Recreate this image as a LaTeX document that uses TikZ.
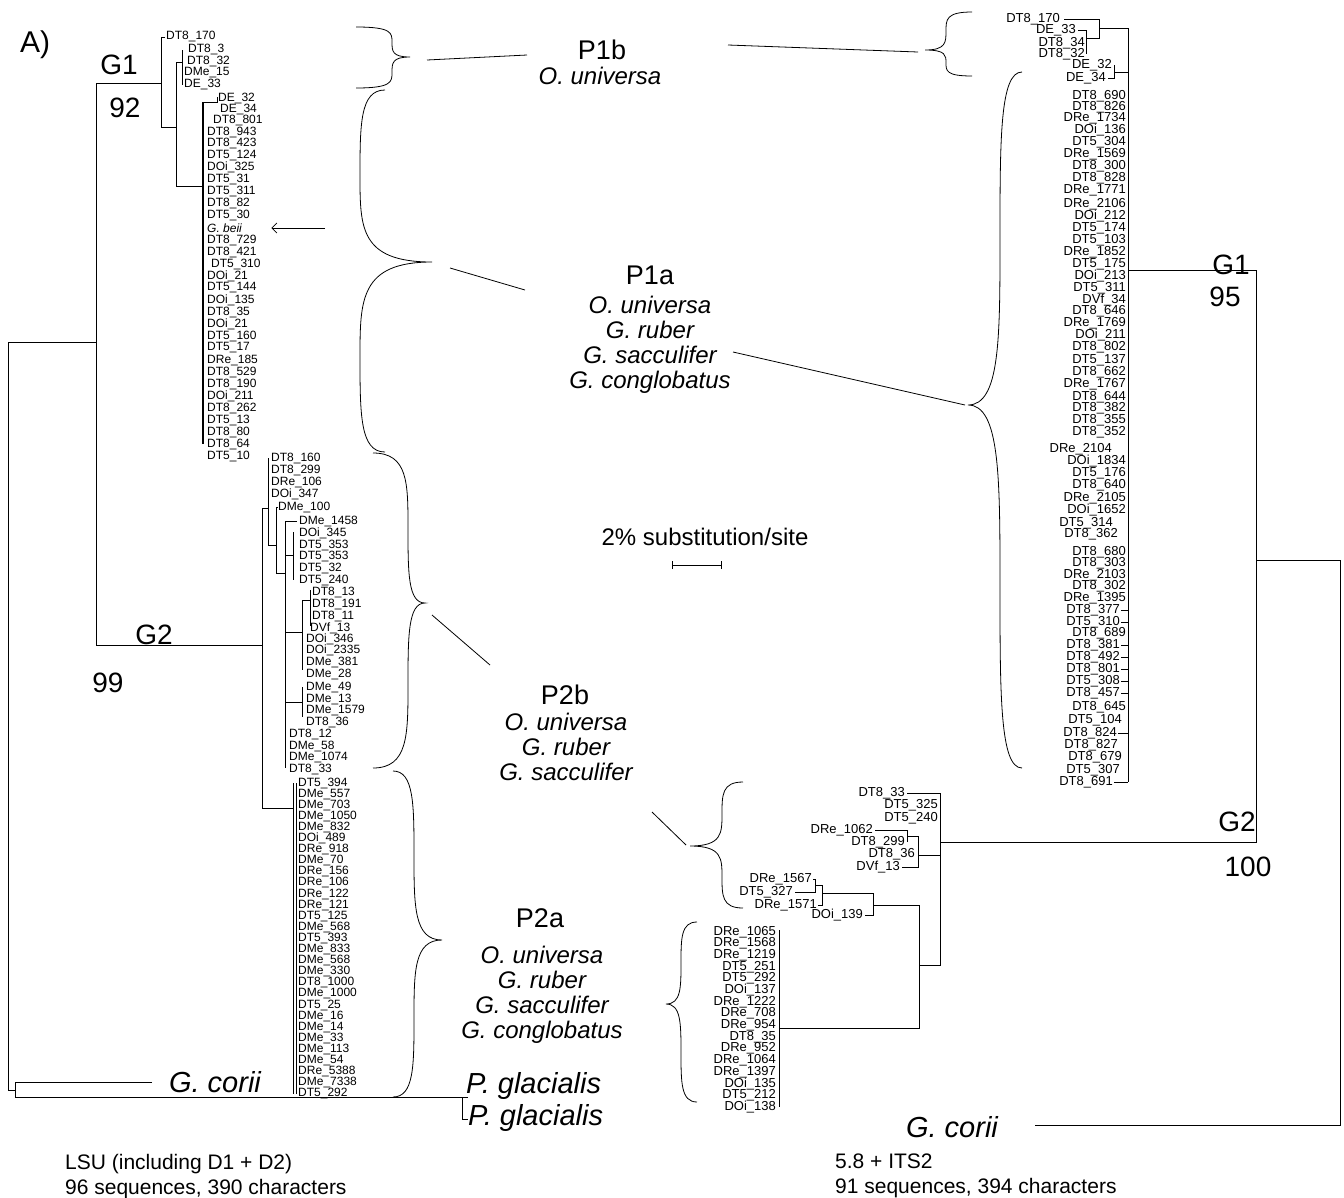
\documentclass[tikz,border=0pt]{standalone}
\usepackage{fontspec}
\setmainfont{Liberation Sans}
\usetikzlibrary{arrows.meta,positioning}
\tikzset{
  leaf/.style={inner sep=0pt,font=\fontsize{12}{12}\selectfont},
  lleaf/.style={leaf,anchor=west},
  rleaf/.style={leaf,anchor=east,font=\fontsize{13}{13}\selectfont},
  clade/.style={inner sep=0pt,font=\fontsize{28}{30}\selectfont},
  group/.style={inner sep=0pt,font=\fontsize{27}{30}\selectfont},
  taxa/.style={inner sep=0pt,align=center,font=\fontsize{24}{25}\selectfont\itshape},
  outg/.style={inner sep=0pt,font=\fontsize{29}{30}\selectfont\itshape},
  note/.style={inner sep=0pt,anchor=north west,align=left,font=\fontsize{21}{25}\selectfont},
  branch/.style={line width=0.8pt},
  bracket/.style={line width=0.8pt},
}
% end x, top y, bottom y, spine x, tip x, tip y
\newcommand\drawbrace[6]{%
  \draw[bracket] (#1,#2)
    .. controls (#4,#2) and (#4,{#2+0.2*(#6-#2)}) .. (#4,{0.5*(#2+#6)})
    .. controls (#4,{#6-0.2*(#6-#2)}) and (#4,#6) .. (#5,#6)
    .. controls (#4,#6) and (#4,{#6+0.2*(#3-#6)}) .. (#4,{0.5*(#6+#3)})
    .. controls (#4,{#3-0.2*(#3-#6)}) and (#4,#3) .. (#1,#3);}
\begin{document}
\begin{tikzpicture}[x=1pt,y=-1pt]
\useasboundingbox (0,0) rectangle (1344,1197);

% ---- LSU tree (left) ----
\foreach \lab/\x/\y [count=\i] in {DT8\_170/166/37, DT8\_3/188/50, DT8\_32/187/62,
  DMe\_15/184/73, DE\_33/184/85, DE\_32/218/98, DE\_34/220/109, DT8\_801/213/120,
  DT8\_943/207/132, DT8\_423/207/143, DT5\_124/207/155, DOi\_325/207/167,
  DT5\_31/207/179, DT5\_311/207/191, DT8\_82/207/203, DT5\_30/207/215,
  \textit{G. beii}/207/228, DT8\_729/207/240, DT8\_421/207/252, DT5\_310/211/264,
  DOi\_21/207/276, DT5\_144/207/288, DOi\_135/207/300, DT8\_35/207/312,
  DOi\_21/207/324, DT5\_160/207/336, DT5\_17/207/348, DRe\_185/207/360,
  DT8\_529/207/372, DT8\_190/207/384, DOi\_211/207/396, DT8\_262/207/408,
  DT5\_13/207/420, DT8\_80/207/432, DT8\_64/207/444, DT5\_10/207/456}
  \node[lleaf] (ga\i) at (\x,\y) {\lab};

\foreach \lab/\x/\y [count=\i] in {DT8\_160/271/458, DT8\_299/271/470, DRe\_106/271/482,
  DOi\_347/271/494, DMe\_100/278/507, DMe\_1458/299/521, DOi\_345/299/533,
  DT5\_353/299/545, DT5\_353/299/556, DT5\_32/299/568, DT5\_240/299/580,
  DT8\_13/312/592, DT8\_191/312/604, DT8\_11/312/616, DVf\_13/310/628,
  DOi\_346/306/639, DOi\_2335/306/650, DMe\_381/306/662, DMe\_28/306/674,
  DMe\_49/306/687, DMe\_13/306/699, DMe\_1579/306/710, DT8\_36/306/722,
  DT8\_12/289/734, DMe\_58/289/746, DMe\_1074/289/757, DT8\_33/289/769}
  \node[lleaf] (gb\i) at (\x,\y) {\lab};

\foreach \lab [count=\i] in {DT5\_394, DMe\_557, DMe\_703, DMe\_1050, DMe\_832,
  DOi\_489, DRe\_918, DMe\_70, DRe\_156, DRe\_106, DRe\_122, DRe\_121, DT5\_125,
  DMe\_568, DT5\_393, DMe\_833, DMe\_568, DMe\_330, DT8\_1000, DMe\_1000, DT5\_25,
  DMe\_16, DMe\_14, DMe\_33, DMe\_113, DMe\_54, DRe\_5388, DMe\_7338, DT5\_292}
  \node[lleaf] (gp\i) at (298,{783+(\i-1)*11.1}) {\lab};

\draw[branch] (161,83) -- (96,83) -- (96,645) -- (262,645);
\draw[branch] (96,342) -- (8,342) -- (8,1090) -- (15,1090);
\draw[branch] (152,1082) -- (15,1082) -- (15,1097) -- (462,1097);
\draw[branch] (468,1097) -- (462,1097) -- (462,1119) -- (468,1119);
\draw[branch] (165,37) -- (161,37) -- (161,127) -- (176,127);
\draw[branch] (182,62) -- (176,62) -- (176,186) -- (203,186);
\draw[branch] (182,50) -- (182,85);
\draw[branch,line width=1.3pt] (203,102) -- (203,444);
\draw[branch] (203,102) -- (217,102) -- (217,97);
\draw[branch] (268,508) -- (262,508) -- (262,808) -- (293,808);
\draw[branch] (268,458) -- (268,545) -- (276,545);
\draw[branch] (278,507) -- (276,507) -- (276,573) -- (285,573);
\draw[branch] (297,521) -- (285,521) -- (285,768);
\draw[branch] (285,555) -- (293,555) (293,532) -- (293,580);
\draw[branch] (285,632) -- (302,632) (302,600) -- (302,670);
\draw[branch] (302,600) -- (310,600) (310,590) -- (310,626);
\draw[branch] (285,702) -- (302,702) (302,687) -- (302,717);
\draw[branch] (293,783) -- (293,1094) (296,783) -- (296,1094);

\coordinate (beiiarrow) at (325,228);
\draw[branch,-{Straight Barb[length=5pt,width=10pt]}] (beiiarrow) -- ([xshift=29pt]ga17.east);

\node[clade,font=\fontsize{30}{30}\selectfont] (lA) at (35,45) {A)};
\node[clade] (lg1) at (119,65) {G1};
\node[clade] (l92) at (125,108) {92};
\node[clade] (lg2) at (154,635) {G2};
\node[clade] (l99) at (108,683) {99};
\node[outg] (gcoriil) at (215,1082) {G. corii};
\node[outg,anchor=west] (pgla1) at (466,1086) {P. glacialis};
\node[outg,anchor=west] (pgla2) at (468,1118) {P. glacialis};
\node[note] (lsu) at (65,1154) {LSU (including D1 + D2)\\96 sequences, 390 characters};

% ---- 5.8S + ITS2 tree (right) ----
\coordinate (rs) at (1128,28);
\foreach \lab/\y/\e/\d [count=\i] in {DT8\_690/96/1126/0, DT8\_826/107/1126/0,
  DRe\_1734/118/1126/0, DOi\_136/130/1126/0, DT5\_304/142/1126/0, DRe\_1569/154/1126/0,
  DT8\_300/166/1126/0, DT8\_828/178/1126/0, DRe\_1771/190/1126/0, DRe\_2106/204/1126/0,
  DOi\_212/216/1126/0, DT5\_174/228/1126/0, DT5\_103/240/1126/0, DRe\_1852/252/1126/0,
  DT5\_175/264/1126/0, DOi\_213/276/1126/0, DT5\_311/288/1126/0, DVf\_34/300/1126/0,
  DT8\_646/311/1126/0, DRe\_1769/323/1126/0, DOi\_211/335/1126/0, DT8\_802/347/1126/0,
  DT5\_137/360/1126/0, DT8\_662/372/1126/0, DRe\_1767/384/1126/0, DT8\_644/397/1126/0,
  DT8\_382/408/1126/0, DT8\_355/420/1126/0, DT8\_352/432/1126/0, DRe\_2104/449/1112/0,
  DOi\_1834/461/1126/0, DT5\_176/473/1126/0, DT8\_640/485/1126/0, DRe\_2105/498/1126/0,
  DOi\_1652/510/1126/0, DT5\_314/523/1113/0, DT8\_362/534/1118/0, DT8\_680/552/1126/0,
  DT8\_303/563/1126/0, DRe\_2103/575/1126/0, DT8\_302/586/1126/0, DRe\_1395/598/1126/0,
  DT8\_377/610/1120/1, DT5\_310/622/1120/1, DT8\_689/633/1126/0, DT8\_381/645/1120/1,
  DT8\_492/657/1120/1, DT8\_801/669/1120/1, DT5\_308/681/1120/1, DT8\_457/693/1120/1,
  DT8\_645/707/1126/0, DT5\_104/720/1122/0, DT8\_824/733/1117/1, DT8\_827/745/1118/0,
  DT8\_679/757/1122/0, DT5\_307/770/1120/0, DT8\_691/782/1113/1}
  {\node[rleaf] (gc\i) at (\e,\y) {\lab};
   \ifnum\d=1 \draw[branch] ([xshift=1pt]gc\i.east) -- (gc\i.east -| rs);\fi}

\foreach \lab/\e/\y [count=\i] in {DT8\_170/1060/19, DE\_33/1076/30, DT8\_34/1085/43,
  DT8\_32/1085/54, DE\_32/1112/65, DE\_34/1106/78}
  \node[rleaf] (gt\i) at (\e,\y) {\lab};

\draw[branch] (rs) -- (1128,782);
\draw[branch] (1064,19) -- (1099,19) -- (1099,38) -- (1086,38);
\draw[branch] (1078,30) -- (1086,30) -- (1086,54);
\draw[branch] (1099,28) -- (rs);
\draw[branch] (1108,78) -- (1114,78) -- (1114,65) (1114,72) -- (1128,72);
\draw[branch] (1128,270) -- (1256,270) -- (1256,842) -- (940,842);
\draw[branch] (1256,560) -- (1340,560) -- (1340,1125) -- (1035,1125);

\foreach \lab/\e/\y [count=\i] in {DT8\_33/905/793, DT5\_325/938/805, DT5\_240/938/818,
  DRe\_1062/873/830, DT8\_299/905/842, DT8\_36/915/854, DVf\_13/900/867,
  DRe\_1567/812/879, DT5\_327/793/892, DRe\_1571/817/905, DOi\_139/863/915}
  \node[rleaf] (gd\i) at (\e,\y) {\lab};

\foreach \lab [count=\i] in {DRe\_1065, DRe\_1568, DRe\_1219, DT5\_251, DT5\_292,
  DOi\_137, DRe\_1222, DRe\_708, DRe\_954, DT8\_35, DRe\_952, DRe\_1064, DRe\_1397,
  DOi\_135, DT5\_212, DOi\_138}
  \node[rleaf] (ge\i) at (776,{932+(\i-1)*11.67}) {\lab};

\draw[branch] (907,793) -- (940,793) -- (940,965) -- (919,965);
\draw[branch] (875,830) -- (907,830) -- (907,842) (907,836) -- (918,836);
\draw[branch] (918,836) -- (918,867) -- (902,867) (918,855) -- (940,855);
\draw[branch] (813,879) -- (815,879) -- (815,892) -- (795,892) (815,885) -- (822,885);
\draw[branch] (822,885) -- (822,905) -- (818,905) (822,893) -- (873,893);
\draw[branch] (873,893) -- (873,915) -- (865,915) (873,905) -- (919,905);
\draw[branch] (919,905) -- (919,1028) -- (779,1028);
\draw[branch] (779,930) -- (779,1107);

\node[clade] (rg1) at (1231,265) {G1};
\node[clade] (r95) at (1225,297) {95};
\node[clade] (rg2) at (1237,822) {G2};
\node[clade] (r100) at (1248,867) {100};
\node[outg] (gcoriir) at (952,1127) {G. corii};
\node[note] (its) at (835,1154) {5.8 + ITS2\\91 sequences, 394 characters};

% ---- groups ----
\node[group] (p1b) at (602,50) {P1b};
\node[taxa,anchor=north] (p1bt) at (600,67) {O. universa};
\node[group] (p1a) at (650,275) {P1a};
\node[taxa,anchor=north] (p1at) at (650,296) {O. universa\\G. ruber\\G. sacculifer\\G. conglobatus};
\node[group] (p2b) at (565,695) {P2b};
\node[taxa,anchor=north] (p2bt) at (566,713) {O. universa\\G. ruber\\G. sacculifer};
\node[group] (p2a) at (540,918) {P2a};
\node[taxa,anchor=north] (p2at) at (542,946) {O. universa\\G. ruber\\G. sacculifer\\G. conglobatus};

\drawbrace{356}{27}{88}{392}{410}{57}
\drawbrace{385}{90}{452}{360}{432}{262}
\drawbrace{373}{453}{768}{408}{425}{603}
\drawbrace{393}{771}{1097}{414}{442}{940}
\drawbrace{972}{12}{76}{946}{925}{50}
\drawbrace{1022}{72}{768}{1000}{968}{405}
\drawbrace{743}{782}{908}{722}{690}{846}
\drawbrace{697}{922}{1102}{681}{666}{1004}

\coordinate (p1bla) at (427,60); \coordinate (p1blb) at (527,55);
\coordinate (p1bra) at (728,45); \coordinate (p1brb) at (918,52);
\coordinate (p1ala) at (450,268); \coordinate (p1alb) at (525,290);
\coordinate (p1ara) at (733,352); \coordinate (p1arb) at (965,405);
\coordinate (p2bla) at (432,615); \coordinate (p2blb) at (490,665);
\coordinate (p2bra) at (652,812); \coordinate (p2brb) at (686,845);
\draw[bracket] (p1bla) -- (p1blb) (p1bra) -- (p1brb);
\draw[bracket] (p1ala) -- (p1alb) (p1ara) -- (p1arb);
\draw[bracket] (p2bla) -- (p2blb) (p2bra) -- (p2brb);

% scale
\node[inner sep=0pt,font=\fontsize{24}{25}\selectfont] (subst) at (705,537) {2\% substitution/site};
\coordinate (sbl) at (672,565); \coordinate (sbr) at (722,565);
\draw[branch,{Bar[width=8pt]}-{Bar[width=8pt]}] (sbl) -- (sbr);
\end{tikzpicture}
\end{document}
